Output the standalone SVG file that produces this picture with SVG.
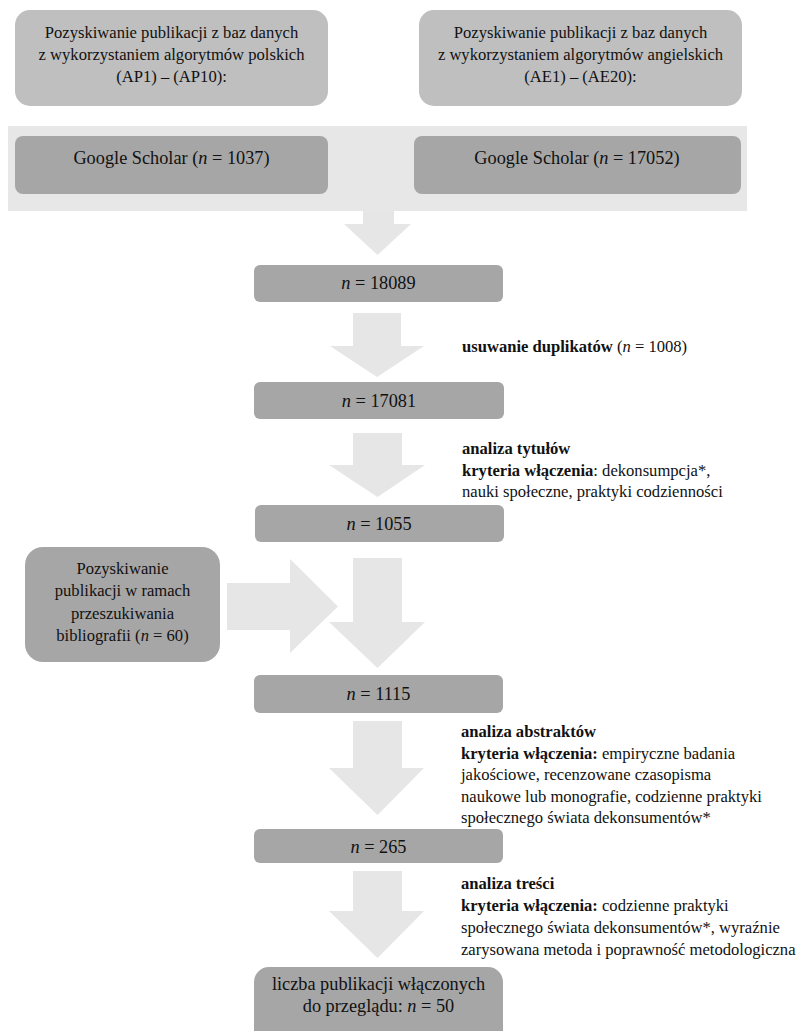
<svg xmlns="http://www.w3.org/2000/svg" width="799" height="1031" viewBox="0 0 799 1031" font-family="'Liberation Serif', 'DejaVu Serif', serif">
<style>
  text { font-family: 'Liberation Serif', 'DejaVu Serif', serif; fill: #111; }
  .s { font-size: 16.6px; }
  .l { font-size: 18.3px; }
  .c { text-anchor: middle; }
  .b { font-weight: bold; }
  .i { font-style: italic; }
  .top { fill: #bfbfbf; }
  .dark { fill: #a6a6a6; }
  .arrow { fill: #e6e6e6; }
</style>
<rect x="0" y="0" width="799" height="1031" fill="#ffffff"/>
<g id="band">
  <rect x="8" y="126" width="739" height="85" fill="#e7e7e7"/>
</g>
<g id="connectors">
  <polygon class="arrow" points="363,210 394,210 394,224 411,224 377.5,255 344,224 363,224"/>
  <polygon class="arrow" points="353,313 401,313 401,346 424,346 377,377 330,346 353,346"/>
  <polygon class="arrow" points="353,433 402,433 402,465 425,465 377.5,497 329,465 353,465"/>
  <polygon class="arrow" points="227,583 290,583 290,559 338,606.5 290,653 290,630 227,630"/>
  <polygon class="arrow" points="353,558 402,558 402,622 425,622 377.5,668 329,622 353,622"/>
  <polygon class="arrow" points="353,721 402,721 402,768 424,768 377.5,815 329,768 353,768"/>
  <polygon class="arrow" points="353,871 402,871 402,911 424,911 377.5,958 329,911 353,911"/>
</g>
<g id="src-pl">
  <rect class="top" x="15" y="10" width="313" height="96" rx="15"/>
  <text class="s c" x="171.5" y="37.5">Pozyskiwanie publikacji z baz danych</text>
  <text class="s c" x="171.5" y="59.5">z wykorzystaniem algorytmów polskich</text>
  <text class="s c" x="171.5" y="81.5">(AP1) – (AP10):</text>
</g>
<g id="src-en">
  <rect class="top" x="419" y="10" width="323" height="96" rx="15"/>
  <text class="s c" x="580.5" y="37.5">Pozyskiwanie publikacji z baz danych</text>
  <text class="s c" x="580.5" y="59.5">z wykorzystaniem algorytmów angielskich</text>
  <text class="s c" x="580.5" y="81.5">(AE1) – (AE20):</text>
</g>
<g id="gs-pl">
  <rect class="dark" x="15" y="136" width="313" height="58" rx="8"/>
  <text class="l c" x="171.5" y="163.5">Google Scholar (<tspan class="i">n</tspan> = 1037)</text>
</g>
<g id="gs-en">
  <rect class="dark" x="414" y="136" width="327" height="58" rx="8"/>
  <text class="l c" x="577" y="163.5">Google Scholar (<tspan class="i">n</tspan> = 17052)</text>
</g>
<g id="n18089">
  <rect class="dark" x="254" y="265" width="249" height="37" rx="6"/>
  <text class="l c" x="378.5" y="288.5"><tspan class="i">n</tspan> = 18089</text>
</g>
<g id="label-dup">
  <text class="s" x="462" y="352"><tspan class="b">usuwanie duplikatów</tspan> (<tspan class="i">n</tspan> = 1008)</text>
</g>
<g id="n17081">
  <rect class="dark" x="254" y="382" width="250" height="37" rx="6"/>
  <text class="l c" x="379" y="407"><tspan class="i">n</tspan> = 17081</text>
</g>
<g id="label-titles">
  <text class="s b" x="462" y="454">analiza tytułów</text>
  <text class="s" x="462" y="475.5"><tspan class="b">kryteria włączenia</tspan>: dekonsumpcja*,</text>
  <text class="s" x="462" y="497">nauki społeczne, praktyki codzienności</text>
</g>
<g id="n1055">
  <rect class="dark" x="255" y="505" width="249" height="37" rx="6"/>
  <text class="l c" x="379" y="529.5"><tspan class="i">n</tspan> = 1055</text>
</g>
<g id="bib">
  <rect class="dark" x="25" y="547" width="195" height="115" rx="18"/>
  <text class="s c" x="122.5" y="574">Pozyskiwanie</text>
  <text class="s c" x="122.5" y="596">publikacji w ramach</text>
  <text class="s c" x="122.5" y="619">przeszukiwania</text>
  <text class="s c" x="122.5" y="641">bibliografii (<tspan class="i">n</tspan> = 60)</text>
</g>
<g id="n1115">
  <rect class="dark" x="254" y="675" width="249" height="38" rx="6"/>
  <text class="l c" x="378.5" y="699.5"><tspan class="i">n</tspan> = 1115</text>
</g>
<g id="label-abstracts">
  <text class="s b" x="461" y="737">analiza abstraktów</text>
  <text class="s" x="461" y="758.5"><tspan class="b">kryteria włączenia:</tspan> empiryczne badania</text>
  <text class="s" x="461" y="780">jakościowe, recenzowane czasopisma</text>
  <text class="s" x="461" y="801.5">naukowe lub monografie, codzienne praktyki</text>
  <text class="s" x="461" y="823">społecznego świata dekonsumentów*</text>
</g>
<g id="n265">
  <rect class="dark" x="254" y="829" width="249" height="34" rx="6"/>
  <text class="l c" x="378.5" y="852.5"><tspan class="i">n</tspan> = 265</text>
</g>
<g id="label-content">
  <text class="s b" x="461" y="889">analiza treści</text>
  <text class="s" x="461" y="911"><tspan class="b">kryteria włączenia:</tspan> codzienne praktyki</text>
  <text class="s" x="461" y="933">społecznego świata dekonsumentów*, wyraźnie</text>
  <text class="s" x="461" y="954.5">zarysowana metoda i poprawność metodologiczna</text>
</g>
<g id="final">
  <rect class="dark" x="254" y="967" width="249" height="80" rx="15"/>
  <text class="l c" x="378.5" y="990">liczba publikacji włączonych</text>
  <text class="l c" x="378.5" y="1012">do przeglądu: <tspan class="i">n</tspan> = 50</text>
</g>
</svg>
